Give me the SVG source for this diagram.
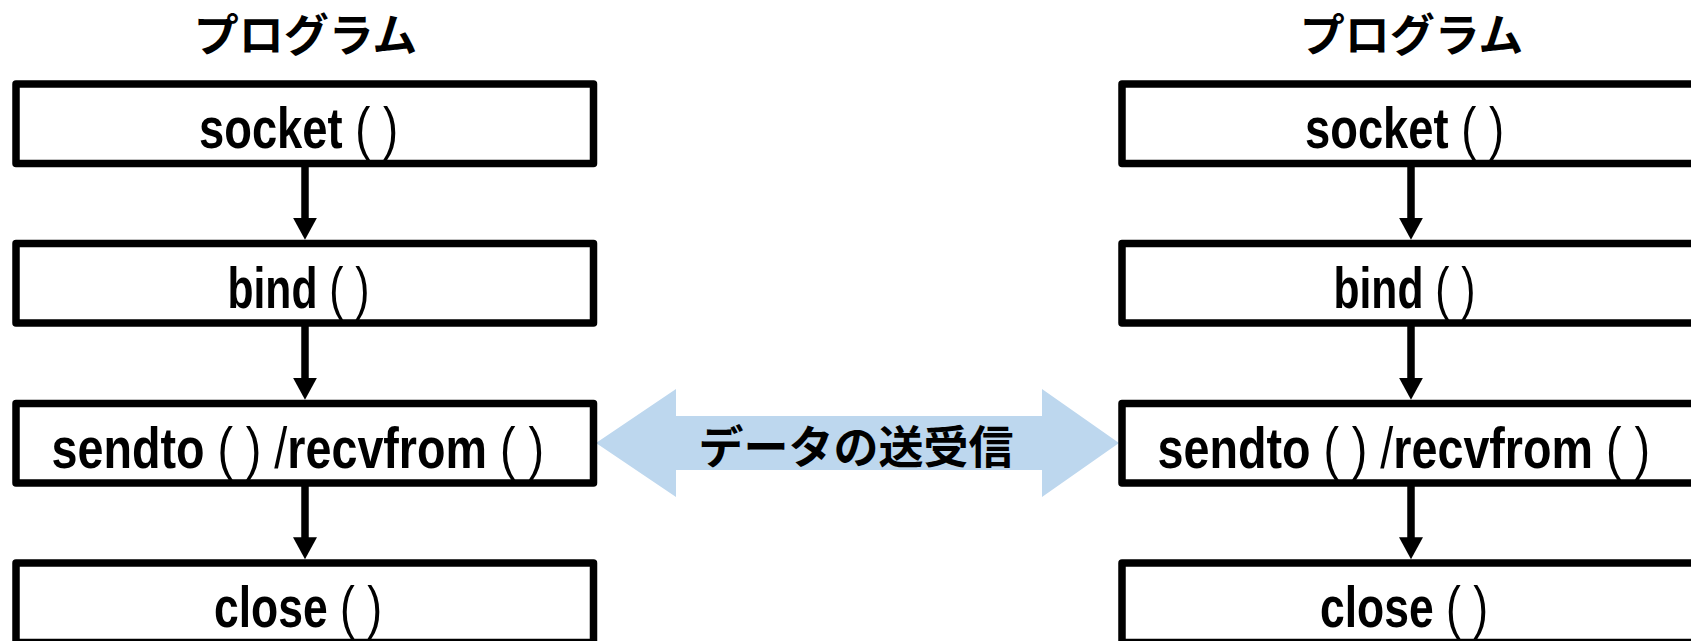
<svg xmlns="http://www.w3.org/2000/svg" width="1691" height="641" viewBox="0 0 1691 641">
<style>
.box{fill:#fff;stroke:#000;stroke-width:7.5;stroke-linejoin:round}
.lbl{font-family:"Liberation Sans Narrow","Liberation Sans",Arial,sans-serif;font-weight:bold;font-size:58px;fill:#000}
.p{font-weight:normal}
.jp{font-family:"Noto Sans CJK JP","Noto Sans CJK SC",sans-serif;font-weight:bold;font-size:45px;fill:#000;text-anchor:middle}
.ln{stroke:#000;stroke-width:7.5;fill:none;marker-end:url(#ah)}
</style>
<defs>
<marker id="ah" viewBox="0 0 22 24" markerWidth="22" markerHeight="24" refX="1" refY="12" orient="auto" markerUnits="userSpaceOnUse">
<path d="M0,0 L22,12 L0,24 Z" fill="#000"/>
</marker>
</defs>
<rect width="1691" height="641" fill="#fff"/>
<g id="connectors">
<polygon points="596,443 676,389 676,416 1042,416 1042,389 1119,443 1042,497 1042,470 676,470 676,497" fill="#BDD7EE"/>
<path class="ln" d="M305,163.5 V218.75"/>
<path class="ln" d="M305,323 V378.75"/>
<path class="ln" d="M305,483 V538.25"/>
<path class="ln" d="M1411,163.5 V218.75"/>
<path class="ln" d="M1411,323 V378.75"/>
<path class="ln" d="M1411,483 V538.25"/>
</g>
<g id="data-label"><text class="jp" x="856" y="464">データの送受信</text></g>
<g id="title-left"><text class="jp" x="305.5" y="52">プログラム</text></g>
<g id="title-right"><text class="jp" x="1411.5" y="52">プログラム</text></g>
<g id="socket-left"><rect class="box" x="16" y="84" width="577.5" height="79.5"/><text class="lbl" x="199" y="148.3" textLength="199" lengthAdjust="spacingAndGlyphs">socket <tspan class="p">( )</tspan></text></g>
<g id="bind-left"><rect class="box" x="16" y="243.5" width="577.5" height="79.5"/><text class="lbl" x="227.5" y="308" textLength="142" lengthAdjust="spacingAndGlyphs">bind <tspan class="p">( )</tspan></text></g>
<g id="sendto-left"><rect class="box" x="16" y="403.5" width="577.5" height="79.5"/><text class="lbl" x="51.5" y="467.5" textLength="492.5" lengthAdjust="spacingAndGlyphs">sendto <tspan class="p">( ) /</tspan>recvfrom <tspan class="p">( )</tspan></text></g>
<g id="close-left"><rect class="box" x="16" y="563" width="577.5" height="79.5"/><text class="lbl" x="214" y="627" textLength="168" lengthAdjust="spacingAndGlyphs">close <tspan class="p">( )</tspan></text></g>
<g id="socket-right"><rect class="box" x="1122" y="84" width="577.5" height="79.5"/><text class="lbl" x="1305" y="148.3" textLength="199" lengthAdjust="spacingAndGlyphs">socket <tspan class="p">( )</tspan></text></g>
<g id="bind-right"><rect class="box" x="1122" y="243.5" width="577.5" height="79.5"/><text class="lbl" x="1333.5" y="308" textLength="142" lengthAdjust="spacingAndGlyphs">bind <tspan class="p">( )</tspan></text></g>
<g id="sendto-right"><rect class="box" x="1122" y="403.5" width="577.5" height="79.5"/><text class="lbl" x="1157.5" y="467.5" textLength="492.5" lengthAdjust="spacingAndGlyphs">sendto <tspan class="p">( ) /</tspan>recvfrom <tspan class="p">( )</tspan></text></g>
<g id="close-right"><rect class="box" x="1122" y="563" width="577.5" height="79.5"/><text class="lbl" x="1320" y="627" textLength="168" lengthAdjust="spacingAndGlyphs">close <tspan class="p">( )</tspan></text></g>
</svg>
